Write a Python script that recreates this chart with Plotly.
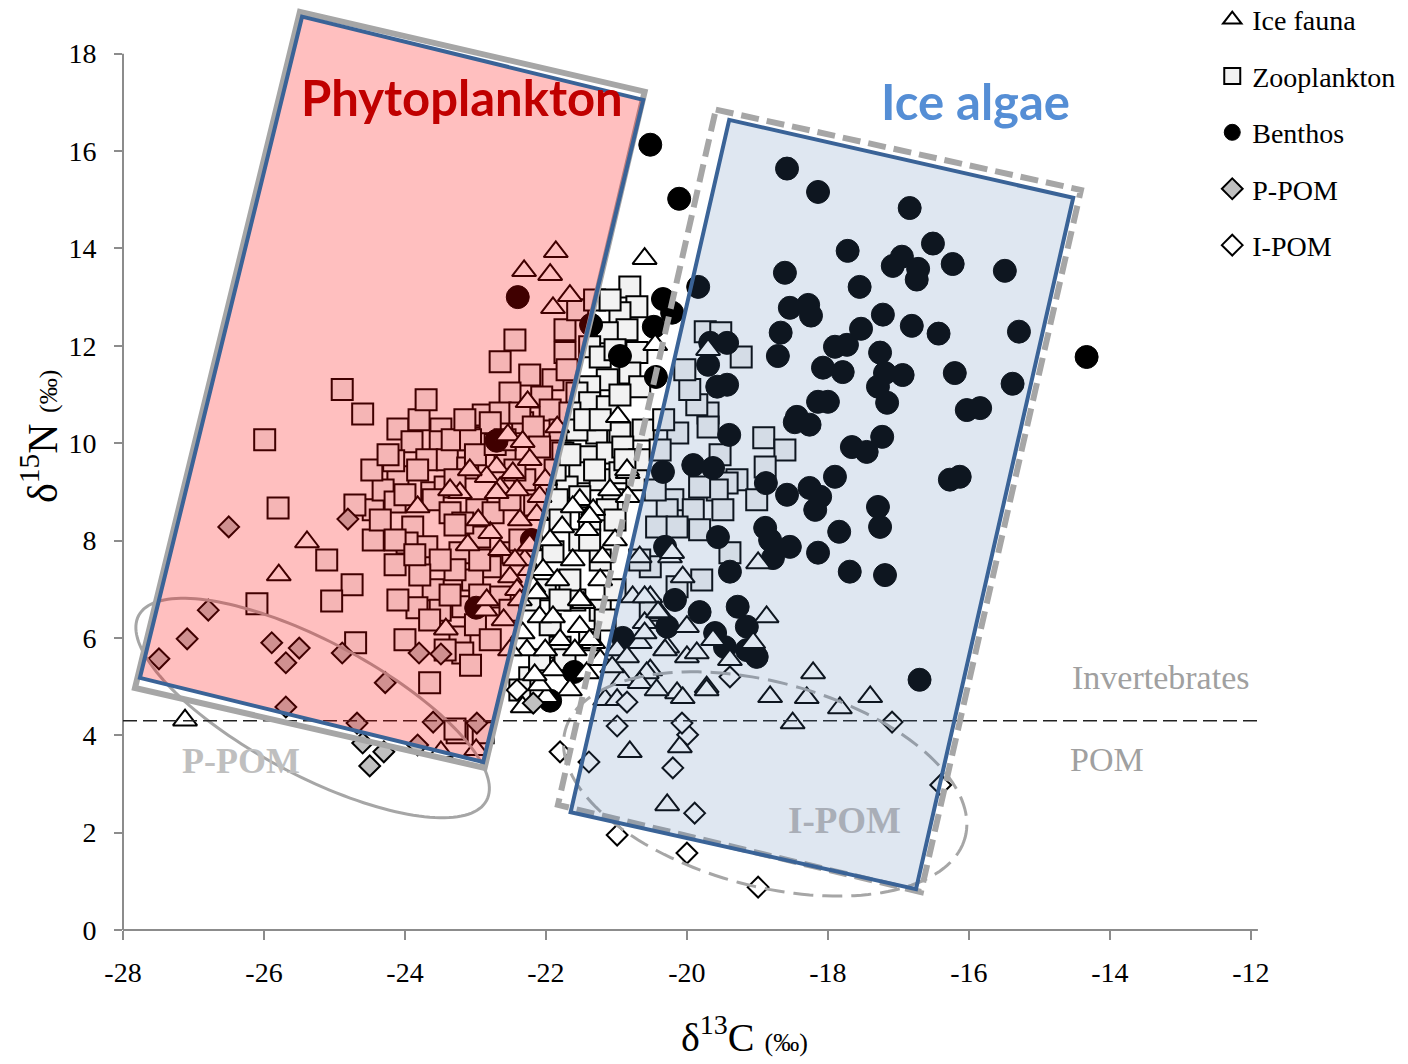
import numpy as np
import plotly.graph_objects as go

# ---------------- data (delta13C, delta15N) ----------------
ice_fauna_x = [-21.86, -22.31, -21.94, -21.66, -21.90, -25.39, -25.79, -23.42, -23.49, -22.99, -27.12,
               -22.26, -22.54, -22.33, -22.70, -22.47, -22.23, -22.84, -22.65, -22.41, -22.09, -21.84,
               -23.22, -22.70, -23.82, -22.13, -22.79, -22.65, -22.51, -22.41, -22.86, -22.60, -22.84,
               -23.08, -23.36, -22.96, -22.37, -23.11, -22.23, -22.01, -22.30,
               -20.60, -20.45, -20.98, -20.84, -21.52, -20.84, -21.33, -21.77, -21.42, -21.20, -21.62,
               -22.04, -21.84, -22.18, -21.47, -22.09, -21.90, -22.33, -21.80, -21.52, -21.33, -21.90,
               -21.42, -22.33, -21.38, -21.62, -22.13, -21.52, -22.27, -21.38, -21.23, -21.02, -21.09,
               -21.94, -21.99, -22.44, -22.23, -22.37, -22.01, -21.59, -21.23, -21.66, -22.09, -21.16,
               -22.51, -22.16,
               -19.70, -20.67, -20.77, -20.52, -20.24, -20.06, -20.38, -20.60, -20.99, -20.67, -20.28,
               -20.00, -19.63, -19.39, -18.99, -18.87, -19.06, -20.91, -20.52, -20.14, -18.82, -20.85,
               -20.21, -20.60, -20.41, -20.00, -20.60, -20.31, -19.86, -20.85, -21.06, -20.57, -19.72,
               -20.99, -18.21, -18.30, -17.40, -17.83, -20.67, -20.43, -20.06, -19.72, -20.81, -20.10,
               -20.28, -18.50]
ice_fauna_y = [13.93, 13.54, 13.46, 13.03, 12.78, 7.97, 7.29, 6.18, 3.66, 3.70, 4.31,
               10.85, 10.17, 10.03, 9.51, 9.39, 9.66, 9.31, 9.08, 9.04, 8.90, 10.33,
               8.98, 8.98, 8.69, 8.53, 8.16, 7.81, 7.25, 6.99, 6.57, 6.37, 6.78,
               9.45, 9.04, 8.42, 8.42, 7.91, 7.40, 9.25, 7.60,
               13.79, 12.02, 10.54, 9.39, 8.84, 8.90, 8.63, 8.28, 8.22, 7.66, 7.60,
               7.40, 7.19, 7.05, 6.72, 6.43, 6.43, 6.10, 5.96, 6.23, 5.90, 5.34,
               5.28, 4.58, 8.49, 8.69, 6.92, 6.78, 5.75, 5.96, 7.19, 8.01, 9.04,
               8.01, 4.79, 7.60, 7.91, 6.78, 5.75, 5.75, 5.55, 4.93, 5.03, 4.73,
               5.75, 5.24,
               11.92, 7.66, 6.84, 6.84, 7.66, 7.25, 6.51, 6.31, 5.75, 5.90, 5.81,
               5.61, 5.96, 5.55, 7.54, 6.43, 5.90, 5.14, 5.34, 4.87, 4.79, 9.45,
               7.75, 6.84, 6.53, 6.23, 6.10, 5.75, 5.69, 5.61, 5.40, 5.28, 4.99,
               4.73, 5.28, 4.77, 4.79, 4.56, 5.08, 4.93, 4.77, 4.93, 3.66, 3.76,
               2.57, 4.25]

zooplankton_x = [-25.99, -25.80, -26.10, -25.11, -24.89, -24.60, -24.75, -25.04, -24.70, -24.45, -24.45,
                 -24.10, -23.80, -23.70, -23.49, -23.90, -23.50, -23.69, -23.40, -23.11, -24.10, -23.82,
                 -24.31, -23.62, -23.43, -24.71, -24.14, -23.89, -23.69, -23.97, -23.60, -23.36, -22.98,
                 -22.75, -23.22, -22.94, -23.18, -22.47, -22.79, -23.04, -23.60, -23.83, -23.18, -22.65,
                 -23.22, -23.18, -23.65, -23.26, -22.89, -22.44, -22.65, -22.23, -22.51, -22.89, -22.65,
                 -22.89, -22.33, -21.73, -21.90, -22.06, -21.70, -22.37, -21.94, -22.18, -21.80, -22.79,
                 -22.09, -23.29, -22.58, -22.30, -22.51, -24.35, -24.14, -23.29, -23.50, -24.16, -23.29,
                 -24.47, -24.24, -24.00, -23.33, -23.07, -23.00, -22.72, -23.29, -23.50, -23.79, -23.36,
                 -23.00, -22.79, -23.43, -23.07, -24.10, -24.00, -23.65, -22.94, -22.51, -24.14, -23.86,
                 -23.15, -22.58, -22.44, -22.16, -22.37, -22.94,
                 -20.81, -20.71, -20.95, -20.85, -21.13, -21.38, -21.23, -20.71, -20.81, -21.13, -21.38,
                 -21.56, -20.67, -21.38, -21.13, -21.66, -20.95, -21.28, -20.62, -21.56, -21.42, -21.76,
                 -21.13, -20.91, -21.52, -21.70, -21.23, -20.95, -20.71, -21.84, -21.52, -21.05, -21.80,
                 -21.38, -21.90, -21.13, -21.52, -21.23, -22.23, -21.80, -22.01, -21.59, -21.38, -20.67,
                 -21.73, -21.55, -21.31, -21.09, -21.02, -20.95, -21.45, -21.23, -21.87, -21.66, -21.31,
                 -20.88, -21.38, -21.02, -21.66, -21.80, -22.23, -21.23, -21.94, -21.02, -21.16, -21.73,
                 -22.09, -22.37,
                 -19.74, -19.52, -19.23, -18.91, -18.61, -19.70, -19.70, -20.13, -18.89, -19.29, -19.43,
                 -19.57, -19.82, -20.20, -19.91, -19.49, -19.01, -20.28, -20.43, -20.14, -19.82, -19.39,
                 -19.79, -20.52, -20.14, -19.86, -20.33, -19.96, -20.03, -20.38, -19.53, -20.45, -20.52,
                 -20.67]
zooplankton_y = [10.07, 8.67, 6.70, 7.60, 11.10, 10.60, 7.09, 6.76, 5.90, 8.63, 8.01,
                 10.29, 10.48, 10.89, 10.29, 10.03, 10.03, 9.66, 9.66, 9.49, 9.31, 9.45,
                 9.04, 8.98, 9.10, 8.73, 8.79, 8.28, 7.87, 7.95, 8.84, 8.57, 8.63,
                 8.57, 7.75, 8.07, 8.36, 7.75, 7.46, 7.19, 6.99, 6.62, 6.64, 6.84,
                 6.02, 5.69, 5.08, 4.05, 4.05, 12.12, 11.67, 11.40, 11.03, 10.58, 10.62,
                 10.11, 10.42, 11.86, 11.30, 10.95, 11.51, 10.62, 10.68, 10.33, 10.27, 10.42,
                 9.92, 9.25, 9.66, 9.25, 8.84, 8.42, 8.01, 7.40, 6.57, 9.64, 4.13,
                 9.45, 9.76, 8.94, 10.07, 10.07, 9.76, 9.97, 8.32, 7.60, 7.29, 6.88,
                 6.27, 5.96, 5.75, 5.44, 6.78, 5.96, 6.37, 6.88, 6.57, 7.50, 7.71,
                 10.48, 10.07, 9.45, 8.73, 8.01, 7.60,
                 13.21, 12.80, 12.68, 12.33, 12.27, 11.98, 11.77, 11.86, 11.44, 11.30, 11.16,
                 11.03, 11.16, 10.83, 10.75, 10.62, 10.21, 10.21, 10.27, 10.27, 9.72, 9.80,
                 9.80, 9.92, 9.39, 9.10, 9.25, 9.39, 9.25, 8.84, 8.90, 8.84, 8.42,
                 8.42, 7.77, 8.63, 8.01, 7.60, 5.18, 5.81, 6.99, 6.78, 5.96, 9.66,
                 12.33, 12.74, 12.94, 12.94, 11.92, 10.99, 10.48, 10.48, 9.45, 9.76, 9.45,
                 9.66, 8.01, 8.42, 7.19, 6.78, 6.78, 6.57, 6.27, 6.99, 6.37, 5.55,
                 5.55, 4.93,
                 12.29, 12.27, 11.77, 10.11, 9.86, 10.62, 10.33, 10.21, 9.51, 9.25, 9.18,
                 9.04, 9.10, 8.84, 8.63, 8.63, 8.84, 8.63, 8.28, 8.28, 8.22, 7.75,
                 7.19, 7.46, 7.05, 10.79, 10.48, 11.10, 11.51, 9.86, 9.76, 9.04, 6.57,
                 7.60]

benthos_x = [-20.52, -20.11, -22.40, -21.36, -20.34, -20.21, -20.47, -20.95, -20.44, -19.84, -22.70,
             -22.20, -22.99, -21.60, -21.94, -18.58, -18.14, -16.84, -17.72, -16.51, -16.23, -17.08,
             -16.95, -16.72, -16.74, -15.49, -18.61, -17.55, -18.54, -18.28, -18.24, -17.22, -16.81,
             -16.43, -15.29, -18.67, -18.71, -17.53, -17.90, -17.73, -18.07, -17.79, -17.26, -17.19,
             -16.94, -17.29, -17.16, -16.20, -15.38, -14.33, -18.14, -18.00, -18.44, -16.03, -15.84,
             -19.67, -19.43, -19.70, -19.57, -19.43, -18.47, -18.26, -17.23, -17.66, -17.45, -19.40,
             -17.90, -18.26, -18.11, -18.18, -18.58, -18.88, -16.27, -16.13, -17.29, -17.26, -17.84,
             -18.14, -17.69, -17.19, -18.89, -18.82, -18.54, -18.78, -19.56, -19.91, -19.63, -20.34,
             -19.39, -20.31, -20.17, -19.82, -19.28, -19.15, -20.28, -19.60, -19.46, -19.15, -19.01,
             -16.70, -20.91]
benthos_y = [16.13, 15.02, 13.00, 12.43, 12.96, 12.68, 12.39, 11.79, 11.36, 13.21, 10.05,
             8.01, 6.62, 5.30, 4.71, 15.64, 15.16, 14.83, 13.95, 14.10, 13.68, 13.64,
             13.83, 13.58, 13.36, 13.54, 13.50, 13.21, 12.78, 12.84, 12.62, 12.64, 12.41,
             12.25, 12.29, 12.27, 11.79, 12.35, 11.98, 12.02, 11.55, 11.46, 11.86, 11.44,
             11.40, 11.16, 10.83, 11.44, 11.22, 11.77, 10.85, 10.85, 10.54, 10.68, 10.72,
             12.06, 12.06, 11.61, 11.16, 11.20, 10.43, 10.38, 10.13, 9.92, 9.82, 10.17,
             9.31, 9.08, 8.90, 8.63, 8.94, 9.18, 9.25, 9.31, 8.69, 8.28, 8.18,
             7.75, 7.36, 7.29, 8.26, 8.01, 7.87, 7.64, 8.07, 9.55, 9.49, 9.41,
             7.36, 7.87, 6.78, 6.53, 6.64, 6.23, 6.23, 6.10, 5.81, 5.75, 5.61,
             5.14, 6.00]

p_pom_x = [-27.49, -27.09, -26.79, -26.50, -25.89, -25.69, -25.50, -24.81, -24.89, -24.28, -25.69,
           -24.68, -24.60, -24.30, -24.50, -23.80, -23.49, -23.60, -23.82, -22.98, -22.18]
p_pom_y = [5.57, 5.98, 6.57, 8.28, 5.90, 5.49, 5.79, 8.44, 5.69, 5.08, 4.58,
           4.25, 3.84, 3.66, 3.37, 5.69, 5.67, 4.27, 3.80, 4.25, 4.66]

i_pom_x = [-22.41, -21.80, -21.39, -20.99, -20.85, -20.20, -19.99, -20.07, -19.89, -20.99, -20.00,
           -18.99, -19.39, -17.09, -16.40]
i_pom_y = [4.93, 3.66, 3.45, 4.19, 4.68, 3.33, 4.01, 4.25, 2.40, 1.95, 1.58,
           0.88, 5.20, 4.27, 2.98]

x_ticks = [-28, -26, -24, -22, -20, -18, -16, -14, -12]
y_ticks = [0, 2, 4, 6, 8, 10, 12, 14, 16, 18]

# region outlines (delta13C, delta15N corners)
phyto_box = [(-25.46, 18.76), (-20.62, 17.05), (-22.89, 3.45), (-27.76, 5.18)]
phyto_shadow = [(-25.49, 18.86), (-20.60, 17.22), (-22.87, 3.33), (-27.83, 4.97)]
icealgae_box = [(-19.40, 16.64), (-14.52, 15.04), (-16.75, 0.84), (-21.65, 2.42)]
icealgae_shadow = [(-19.59, 16.85), (-14.41, 15.20), (-16.68, 0.78), (-21.83, 2.57)]
invert_pom_limit = 4.3

# ---------------- layout geometry ----------------
W, H = 1408, 1064
ML, MR, MT, MB = 123, 136, 5, 134
XR = [-28, -11.7]
YR = [0, 19]
PXX = (W - ML - MR) / (XR[1] - XR[0])
PXY = (H - MT - MB) / (YR[1] - YR[0])


def poly(pts):
    pts = list(pts)
    return "M " + " L ".join(f"{x:.4f},{y:.4f}" for x, y in pts) + " Z"


def ellipse(cx, cy, a_px, b_px, deg, n=160):
    t = np.linspace(0, 2 * np.pi, n, endpoint=False)
    th = np.radians(deg)
    u = a_px * np.cos(t)
    v = b_px * np.sin(t)
    dx = u * np.cos(th) - v * np.sin(th)
    dy = u * np.sin(th) + v * np.cos(th)
    return poly(zip(cx + dx / PXX, cy - dy / PXY))


SERIF = "Liberation Serif"
fig = go.Figure()

fig.add_trace(go.Scatter(x=zooplankton_x, y=zooplankton_y, mode="markers", name="Zooplankton",
                         legendrank=2, legendgroup="z",
                         marker=dict(symbol="square", size=21, color="#F2F2F2",
                                     line=dict(color="black", width=2))))
fig.add_trace(go.Scatter(x=benthos_x, y=benthos_y, mode="markers", name="Benthos",
                         legendrank=3, legendgroup="b",
                         marker=dict(symbol="circle", size=23, color="black",
                                     line=dict(color="black", width=1))))
fig.add_trace(go.Scatter(x=ice_fauna_x, y=ice_fauna_y, mode="markers", name="Ice fauna",
                         legendrank=1, legendgroup="i",
                         marker=dict(symbol="triangle-up", size=21, color="white",
                                     line=dict(color="black", width=2))))
fig.add_trace(go.Scatter(x=p_pom_x, y=p_pom_y, mode="markers", name="P-POM",
                         legendrank=4, legendgroup="p",
                         marker=dict(symbol="diamond", size=16, color="#C0C0C0",
                                     line=dict(color="black", width=2))))
fig.add_trace(go.Scatter(x=i_pom_x, y=i_pom_y, mode="markers", name="I-POM",
                         legendrank=5, legendgroup="q",
                         marker=dict(symbol="diamond", size=16, color="white",
                                     line=dict(color="black", width=2))))

GRAY = "#A6A6A6"
BLUE = "#3A6397"
shapes = [
    # axis lines
    dict(type="line", xref="paper", yref="y", x0=0, x1=0, y0=0, y1=18, layer="below",
         line=dict(color="#8C8C8C", width=2)),
    dict(type="line", xref="x", yref="paper", x0=-28.11, x1=-11.9, y0=0, y1=0, layer="below",
         line=dict(color="#8C8C8C", width=2)),
    # ellipses
    dict(type="path", path=ellipse(-25.31, 4.56, 197, 67, 28), layer="above",
         line=dict(color=GRAY, width=3)),
    dict(type="path", path=ellipse(-18.89, 3.00, 207, 102, 15), layer="above",
         line=dict(color=GRAY, width=3, dash="20px,9px")),
    # invertebrates / POM limit
    dict(type="line", xref="x", yref="y", x0=-28, x1=-11.83, y0=invert_pom_limit, y1=invert_pom_limit,
         layer="above", line=dict(color="#222222", width=1.5, dash="14px,6px")),
    # shadows
    dict(type="path", path=poly(phyto_shadow), layer="above", line=dict(color=GRAY, width=6)),
    dict(type="path", path=poly(icealgae_shadow), layer="above",
         line=dict(color=GRAY, width=6, dash="18px,8px")),
    # translucent fills
    dict(type="path", path=poly(phyto_box), layer="above", fillcolor="rgb(255,0,0)",
         opacity=0.25, line=dict(width=0)),
    dict(type="path", path=poly(icealgae_box), layer="above", fillcolor="rgb(80,120,180)",
         opacity=0.18, line=dict(width=0)),
    # outlines
    dict(type="path", path=poly(phyto_box), layer="above", line=dict(color=BLUE, width=4)),
    dict(type="path", path=poly(icealgae_box), layer="above", line=dict(color=BLUE, width=4)),
]

annotations = [
    dict(x=-23.19, y=17.12, xref="x", yref="y", text="<b>Phytoplankton</b>", showarrow=False,
         font=dict(family="Lato", size=49, color="#C00000")),
    dict(x=-15.91, y=17.03, xref="x", yref="y", text="<b>Ice algae</b>", showarrow=False,
         font=dict(family="Lato", size=49, color="#558ED5")),
    dict(x=-13.28, y=5.18, xref="x", yref="y", text="Invertebrates", showarrow=False,
         font=dict(family=SERIF, size=34, color="#A0A0A0")),
    dict(x=-14.04, y=3.51, xref="x", yref="y", text="POM", showarrow=False,
         font=dict(family=SERIF, size=34, color="#A0A0A0")),
    dict(x=-26.33, y=3.47, xref="x", yref="y", text="<b>P-POM</b>", showarrow=False,
         font=dict(family=SERIF, size=36, color="#BFBFBF")),
    dict(x=-17.76, y=2.24, xref="x", yref="y", text="<b>I-POM</b>", showarrow=False,
         font=dict(family=SERIF, size=37, color="#A9AEB7")),
    dict(x=-0.0722, y=0.533, xref="paper", yref="paper", textangle=-90, showarrow=False,
         xanchor="center", yanchor="middle",
         text="δ<sup>15</sup>N <span style='font-size:26px'>(‰)</span>",
         font=dict(family=SERIF, size=42, color="black")),
    dict(x=0.541, y=-0.113, xref="paper", yref="paper", showarrow=False,
         xanchor="center", yanchor="middle",
         text="δ<sup>13</sup>C <span style='font-size:26px'>(‰)</span>",
         font=dict(family=SERIF, size=40, color="black")),
]

fig.update_layout(
    width=W, height=H,
    margin=dict(l=ML, r=MR, t=MT, b=MB, autoexpand=False),
    plot_bgcolor="white", paper_bgcolor="white",
    shapes=shapes, annotations=annotations,
    showlegend=True,
    legend=dict(x=0.948, y=1.011, xanchor="left", yanchor="top", bgcolor="rgba(0,0,0,0)",
                font=dict(family=SERIF, size=28, color="black"), tracegroupgap=17,
                itemwidth=30),
    xaxis=dict(range=XR, tickvals=x_ticks, ticktext=[str(v) for v in x_ticks],
               showgrid=False, zeroline=False, showline=False, ticks="outside",
               ticklen=9, tickwidth=1.5, tickcolor="#8C8C8C", ticklabelstandoff=8,
               tickfont=dict(family=SERIF, size=28, color="black")),
    yaxis=dict(range=YR, tickvals=y_ticks, showgrid=False, zeroline=False, showline=False,
               ticks="outside", ticklen=8, tickwidth=1.5, tickcolor="#8C8C8C",
               ticklabelstandoff=12, tickfont=dict(family=SERIF, size=28, color="black")),
)

fig.write_html("out.html")
